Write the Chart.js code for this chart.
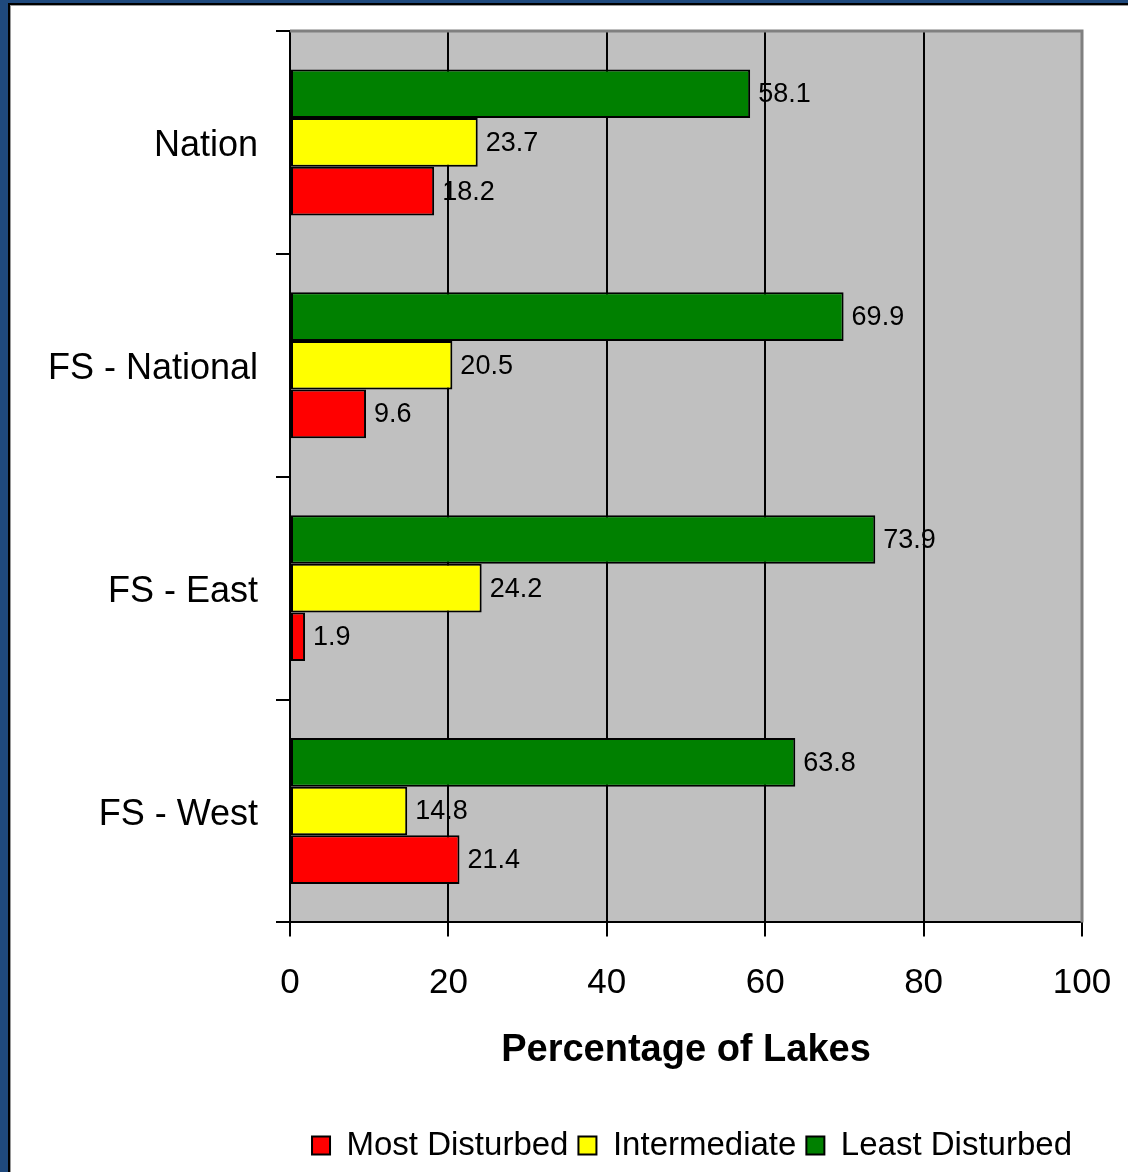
<!DOCTYPE html>
<html lang="en">
<head>
<meta charset="UTF-8">
<title>Percentage of Lakes</title>
<script src="https://cdn.jsdelivr.net/npm/chart.js"></script>
<style>
  html, body { margin: 0; width: 1128px; height: 1172px; overflow: hidden; background: #1F497D; }
  #frame {
    position: absolute; left: 8px; top: 3px; right: 0; bottom: 0;
    background: #fff; border-left: 2px solid #000; border-top: 2px solid #000;
    box-shadow: inset 1px 1px 0 #9a9a9a;
  }
  #wrap { position: absolute; left: 0; top: 0; width: 1128px; height: 1172px; }
</style>
</head>
<body>
<div id="frame"></div>
<div id="wrap"><canvas id="myChart"></canvas></div>

<script>
  const categories = ['Nation', 'FS - National', 'FS - East', 'FS - West'];
  const mostDisturbed = [18.2, 9.6, 1.9, 21.4];
  const intermediate = [23.7, 20.5, 24.2, 14.8];
  const leastDisturbed = [58.1, 69.9, 73.9, 63.8];
  const xMin = 0, xMax = 100, xStep = 20;

  const FONT = "'Liberation Sans', Arial, sans-serif";

  // grey plot area + grey top/right edge like the Excel original
  const plotBg = {
    id: 'plotBg',
    beforeDraw(chart) {
      const { ctx, chartArea: a } = chart;
      ctx.save();
      ctx.fillStyle = '#C0C0C0';
      ctx.fillRect(a.left, a.top, a.right - a.left, a.bottom - a.top);
      ctx.restore();
    },
    beforeDatasetsDraw(chart) {
      const { ctx, chartArea: a } = chart;
      ctx.save();
      ctx.strokeStyle = '#808080';
      ctx.lineWidth = 3;
      ctx.beginPath();
      ctx.moveTo(a.left, a.top);
      ctx.lineTo(a.right, a.top);
      ctx.lineTo(a.right, a.bottom);
      ctx.stroke();
      ctx.restore();
    }
  };

  // value labels at the end of each bar
  const barLabels = {
    id: 'barLabels',
    afterDatasetsDraw(chart) {
      const ctx = chart.ctx;
      ctx.save();
      ctx.font = '27px ' + FONT;
      ctx.fillStyle = '#000';
      ctx.textAlign = 'left';
      ctx.textBaseline = 'middle';
      chart.data.datasets.forEach((ds, i) => {
        chart.getDatasetMeta(i).data.forEach((bar, j) => {
          ctx.fillText(ds.data[j].toFixed(1), bar.x + 8, bar.y + 1);
        });
      });
      ctx.restore();
    }
  };

  const data = {
    labels: categories,
    datasets: [
      { label: 'Least Disturbed', data: leastDisturbed, backgroundColor: '#008000' },
      { label: 'Intermediate', data: intermediate, backgroundColor: '#FFFF00' },
      { label: 'Most Disturbed', data: mostDisturbed, backgroundColor: '#FF0000' },
    ]
  };
  data.datasets.forEach(ds => {
    ds.borderColor = '#000';
    ds.borderWidth = 2;
    ds.borderSkipped = false;
    ds.barPercentage = 1.0;
    ds.categoryPercentage = 0.655;
  });

  const config = {
    type: 'bar',
    data: data,
    plugins: [plotBg, barLabels],
    options: {
      indexAxis: 'y',
      responsive: true,
      maintainAspectRatio: false,
      animation: false,
      layout: { padding: { left: 0, right: 46, top: 31, bottom: 0 } },
      plugins: {
        tooltip: { enabled: false },
        legend: {
          position: 'bottom',
          align: 'end',
          reverse: true,
          labels: {
            font: { family: FONT, size: 33 },
            color: '#000',
            boxWidth: 18,
            boxHeight: 18,
            padding: 10
          }
        }
      },
      scales: {
        x: {
          min: xMin,
          max: xMax,
          afterFit: s => { s.paddingLeft = 0; s.paddingRight = 0; },
          ticks: {
            stepSize: xStep,
            color: '#000',
            padding: 26,
            font: { family: FONT, size: 35 }
          },
          grid: {
            color: c => (c.tick && (c.tick.value === xMin || c.tick.value === xMax)) ? 'rgba(0,0,0,0)' : '#000',
            tickColor: '#000',
            lineWidth: 2,
            tickLength: 14
          },
          border: { color: '#000', width: 2 },
          title: {
            display: true,
            text: 'Percentage of Lakes',
            color: '#000',
            font: { family: FONT, size: 38, weight: 'bold' },
            padding: { top: -3, bottom: 46 }
          }
        },
        y: {
          afterFit: s => { s.width = 290; s.paddingTop = 0; s.paddingBottom = 0; },
          ticks: {
            color: '#000',
            padding: 18,
            labelOffset: 4,
            font: { family: FONT, size: 36 }
          },
          grid: {
            drawOnChartArea: false,
            color: '#000',
            lineWidth: 2,
            tickLength: 14,
            offset: true
          },
          border: { color: '#000', width: 2 }
        }
      }
    }
  };

  const myChart = new Chart(document.getElementById('myChart'), config);
</script>
</body>
</html>
